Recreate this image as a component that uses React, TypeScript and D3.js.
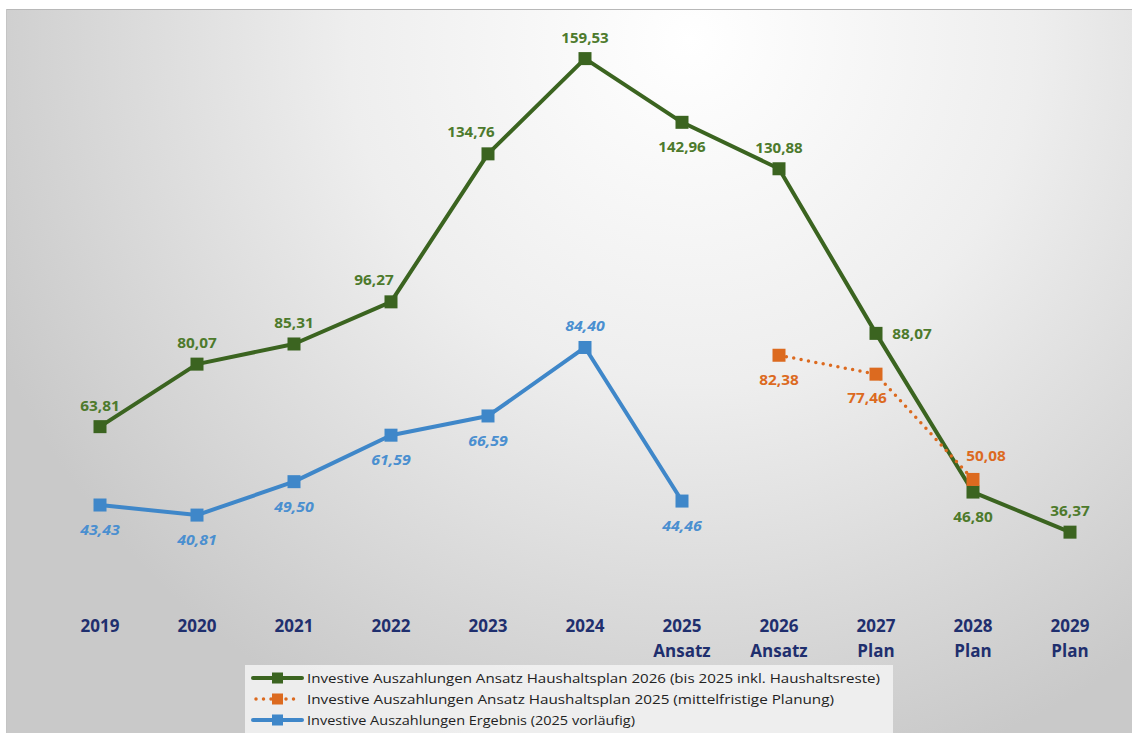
import React from "react";
import * as d3 from "d3";

// categories along the x axis
const years = ["2019", "2020", "2021", "2022", "2023", "2024", "2025", "2026", "2027", "2028", "2029"];
const yearNotes = ["", "", "", "", "", "", "Ansatz", "Ansatz", "Plan", "Plan", "Plan"];

// series values (Mio. EUR)
const planned2026 = [63.81, 80.07, 85.31, 96.27, 134.76, 159.53, 142.96, 130.88, 88.07, 46.8, 36.37];
const planned2025 = [null, null, null, null, null, null, null, 82.38, 77.46, 50.08, null];
const result = [43.43, 40.81, 49.5, 61.59, 66.59, 84.4, 44.46, null, null, null, null];

const legendNames = [
  "Investive Auszahlungen Ansatz Haushaltsplan 2026 (bis 2025 inkl. Haushaltsreste)",
  "Investive Auszahlungen Ansatz Haushaltsplan 2025 (mittelfristige Planung)",
  "Investive Auszahlungen Ergebnis (2025 vorläufig)",
];

// where each data label goes relative to its point
const greenPlace = ["up", "up", "up", "upleft", "upleft", "up", "down", "up", "right", "down", "up"];
const orangePlace = ["", "", "", "", "", "", "", "down", "downleft", "upright", ""];
const bluePlace = ["down", "down", "down", "down", "down", "up", "down", "", "", "", ""];

const W = 1132;
const H = 733;
const GREEN = "#3b6420";
const GREEN_TXT = "#4d7a2c";
const ORANGE = "#dc6a1f";
const BLUE = "#3f87c9";
const BLUE_TXT = "#4a8fd0";
const NAVY = "#1f2f6e";
const FONT = "'Open Sans', 'Noto Sans', sans-serif";

const fmt = (v: number) => v.toFixed(2).replace(".", ",");

const offsets: Record<string, [number, number]> = {
  up: [0, -21],
  upleft: [-17, -22],
  down: [0, 25],
  right: [36, 1],
  downleft: [-9, 24],
  upright: [13, -23],
};

export default function App() {
  const x = d3.scalePoint<string>().domain(years).range([51.5, 1118.5]).padding(0.5);
  const y = d3.scaleLinear().domain([0, 160]).range([672, 672 - 160 * 3.845]);

  const line = d3
    .line<number | null>()
    .defined((d) => d != null)
    .x((_, i) => x(years[i]) as number)
    .y((d) => y(d as number));

  const series = [
    { values: planned2026, color: GREEN, txt: GREEN_TXT, place: greenPlace, dotted: false, italic: false },
    { values: planned2025, color: ORANGE, txt: ORANGE, place: orangePlace, dotted: true, italic: false },
    { values: result, color: BLUE, txt: BLUE_TXT, place: bluePlace, dotted: false, italic: true },
  ];

  return (
    <svg
      width={W}
      height={H}
      style={{ position: "absolute", left: 0, top: 0, background: "#fff" }}
      fontFamily={FONT}
    >
      <defs>
        <radialGradient id="bg" gradientUnits="userSpaceOnUse" cx={690} cy={40} r={760}>
          <stop offset="0" stopColor="#ffffff" />
          <stop offset="0.45" stopColor="#eeeeee" />
          <stop offset="1" stopColor="#c9c9c9" />
        </radialGradient>
      </defs>
      <rect x={6} y={9} width={W - 6} height={H - 9} fill="url(#bg)" />
      <line x1={6} x2={W} y1={9.5} y2={9.5} stroke="#b8b8b8" />
      <line x1={6.5} x2={6.5} y1={9} y2={H} stroke="#c4c4c4" />

      {/* x axis labels */}
      {years.map((yr, i) => (
        <text
          key={yr}
          x={x(yr)}
          y={632}
          textAnchor="middle"
          fontSize={17}
          fontWeight="bold"
          fill={NAVY}
        >
          {yr}
          {yearNotes[i] && (
            <tspan x={x(yr)} dy={25}>
              {yearNotes[i]}
            </tspan>
          )}
        </text>
      ))}

      {/* series lines, markers */}
      {series.map((s, si) => (
        <g key={si}>
          <path
            d={line(s.values) || ""}
            fill="none"
            stroke={s.color}
            strokeWidth={s.dotted ? 3.5 : 4}
            strokeLinecap="round"
            strokeLinejoin="round"
            strokeDasharray={s.dotted ? "0 7.5" : undefined}
          />
          {s.values.map((v, i) =>
            v == null ? null : (
              <rect
                key={i}
                x={(x(years[i]) as number) - 6.5}
                y={y(v) - 6.5}
                width={13}
                height={13}
                fill={s.color}
              />
            )
          )}
        </g>
      ))}

      {/* data labels */}
      {series.map((s, si) => (
        <g key={"l" + si}>
          {s.values.map((v, i) => {
            if (v == null) return null;
            const [dx, dy] = offsets[s.place[i]];
            return (
              <text
                key={i}
                x={(x(years[i]) as number) + dx}
                y={y(v) + dy}
                dy="0.35em"
                textAnchor="middle"
                fontSize={14}
                fontWeight="bold"
                fontStyle={s.italic ? "italic" : "normal"}
                fill={s.txt}
                textLength={fmt(v).length * 7.9}
                lengthAdjust="spacingAndGlyphs"
              >
                {fmt(v)}
              </text>
            );
          })}
        </g>
      ))}

      {/* legend */}
      <g>
        <rect x={245} y={665} width={648} height={H - 665} fill="#f3f3f3" fillOpacity={0.85} />
        {series.map((s, i) => {
          const ly = 678 + i * 21;
          return (
            <g key={"lg" + i}>
              <line
                x1={s.dotted ? 256 : 253}
                x2={s.dotted ? 300 : 302}
                y1={ly}
                y2={ly}
                stroke={s.color}
                strokeWidth={s.dotted ? 3.5 : 4}
                strokeLinecap="round"
                strokeDasharray={s.dotted ? "0 7.5" : undefined}
              />
              <rect x={272} y={ly - 5.5} width={11} height={11} fill={s.color} />
              <text
                x={307}
                y={ly}
                dy="0.35em"
                fontSize={13.5}
                fill="#222"
                textLength={[573, 527, 328][i]}
                lengthAdjust="spacingAndGlyphs"
              >
                {legendNames[i]}
              </text>
            </g>
          );
        })}
      </g>
    </svg>
  );
}
